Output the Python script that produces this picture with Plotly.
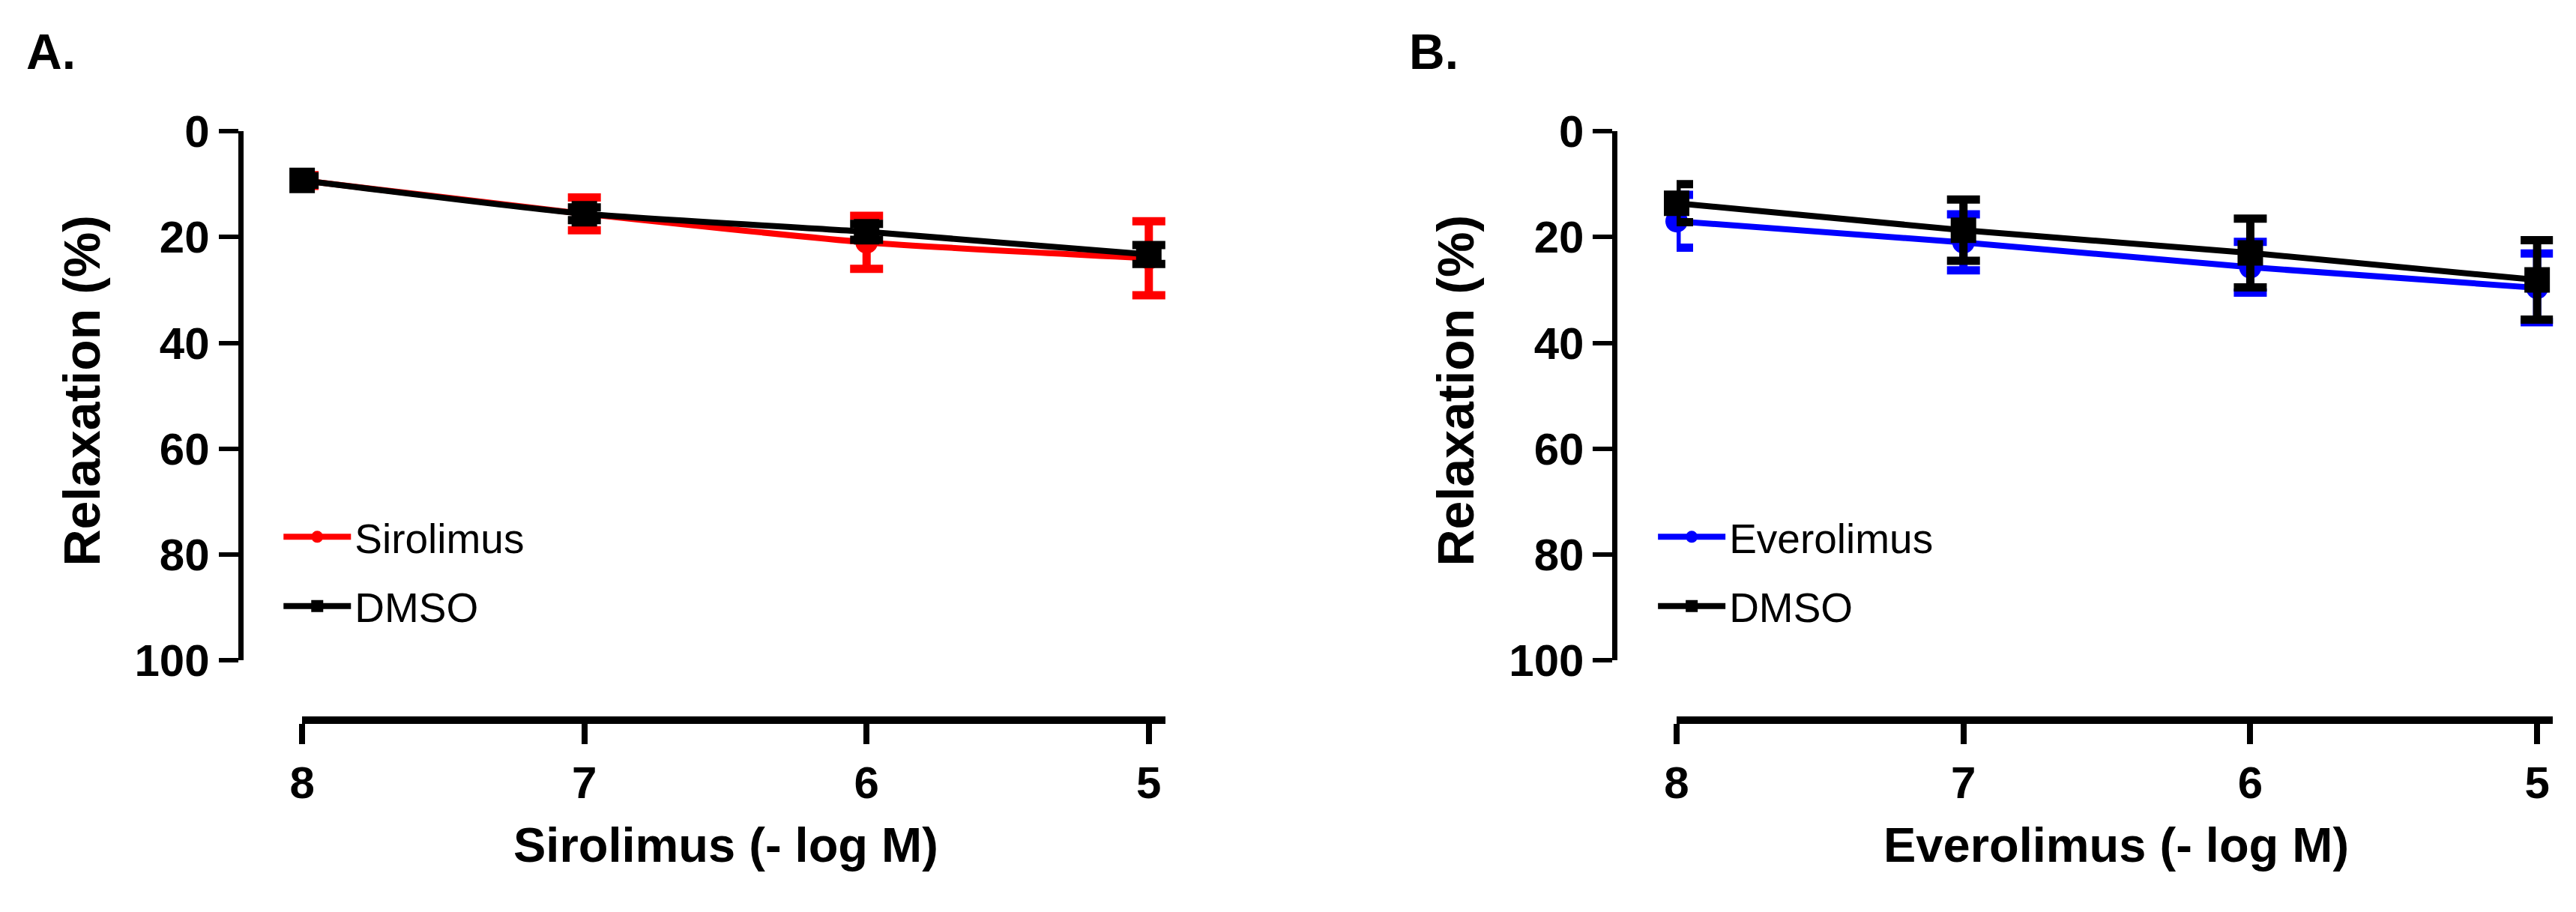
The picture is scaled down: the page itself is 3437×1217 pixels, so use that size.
import plotly.graph_objects as go

doses = [8, 7, 6, 5]

sirolimus_mean = [9.3, 15.6, 21.0, 24.0]
sirolimus_sem = [1.0, 3.1, 5.0, 7.0]
dmso_a_mean = [9.3, 15.6, 19.0, 23.3]
dmso_a_sem = [0.8, 1.2, 1.5, 1.8]

everolimus_mean = [17.0, 21.0, 25.7, 29.6]
everolimus_sem = [5.0, 5.3, 4.8, 6.5]
dmso_b_mean = [13.6, 18.7, 23.0, 28.1]
dmso_b_sem = [3.6, 5.8, 6.5, 7.5]

y_ticks = [0, 20, 40, 60, 80, 100]

W, H = 3437, 1217
FONT = "Liberation Sans"
SHIFT = 1843  # horizontal offset of panel B


def px_x(p):
    return p / W


def px_y(p):
    return 1 - p / H


def series(x, y, err, name, color, symbol, msize, shape, xa, ya, legend):
    return go.Scatter(
        x=x, y=y, name=name, mode="lines+markers", legendgroup=name + xa,
        xaxis=xa, yaxis=ya, legend=legend, cliponaxis=False,
        line=dict(color=color, width=8, shape=shape, smoothing=0.6),
        marker=dict(color=color, symbol=symbol, size=msize),
        error_y=dict(type="data", array=err, color=color, thickness=11, width=22),
    )


fig = go.Figure()
fig.add_trace(series(doses, sirolimus_mean, sirolimus_sem, "Sirolimus", "#ff0000",
                     "circle", 30, "spline", "x", "y", "legend"))
fig.add_trace(series(doses, dmso_a_mean, dmso_a_sem, "DMSO", "#000000",
                     "square", 34, "spline", "x", "y", "legend"))
fig.add_trace(series(doses, everolimus_mean, everolimus_sem, "Everolimus", "#0000ff",
                     "circle", 30, "linear", "x2", "y2", "legend2"))
fig.add_trace(series(doses, dmso_b_mean, dmso_b_sem, "DMSO", "#000000",
                     "square", 34, "linear", "x2", "y2", "legend2"))

tickfont = dict(family=FONT, size=60, color="black", weight="bold")
xcommon = dict(tickvals=doses, showline=True, linewidth=10,
               linecolor="black", ticks="outside", ticklen=27, tickwidth=8,
               tickcolor="black", showgrid=False, zeroline=False, tickfont=tickfont,
               anchor="free", position=px_y(974))
ycommon = dict(range=[100, 0], tickvals=y_ticks, showline=True, linewidth=7,
               linecolor="black", ticks="outside", ticklen=26, tickwidth=6,
               tickcolor="black", showgrid=False, zeroline=False, tickfont=tickfont,
               anchor="free", domain=[px_y(889), px_y(142)])
legcommon = dict(xanchor="left", yanchor="top", traceorder="grouped",
                 tracegroupgap=18, itemwidth=90,
                 font=dict(family=FONT, size=55, color="black"),
                 bgcolor="rgba(0,0,0,0)")

fig.update_layout(
    width=W, height=H, margin=dict(l=0, r=0, t=0, b=0),
    plot_bgcolor="white", paper_bgcolor="white",
    showlegend=True,
    xaxis=dict(xcommon, domain=[px_x(380), px_x(1538)], range=[8, 4.94]),
    yaxis=dict(ycommon, position=px_x(297)),
    xaxis2=dict(xcommon, domain=[px_x(2223), px_x(3398)], range=[8, 4.945]),
    yaxis2=dict(ycommon, position=px_x(297 + SHIFT)),
    legend=dict(legcommon, x=px_x(350), y=px_y(670)),
    legend2=dict(legcommon, x=px_x(350 + SHIFT), y=px_y(670)),
)

labels = [
    ("A.", 8, 30, 0, 66, "left"),
    ("B.", 1862, 30, 0, 66, "left"),
    ("Relaxation (%)", 84, 508, -90, 68, "center"),
    ("Relaxation (%)", 84 + SHIFT, 508, -90, 68, "center"),
    ("Sirolimus (- log M)", 948, 1150, 0, 65, "center"),
    ("Everolimus (- log M)", 2812, 1150, 0, 65, "center"),
]
for text, ax, ay, ang, size, anchor in labels:
    fig.add_annotation(
        text=text, x=px_x(ax), y=px_y(ay), xref="paper", yref="paper",
        xanchor=anchor, yanchor="middle", textangle=ang, showarrow=False,
        font=dict(family=FONT, size=size, color="black", weight="bold"),
    )

fig.write_html("out.html")
